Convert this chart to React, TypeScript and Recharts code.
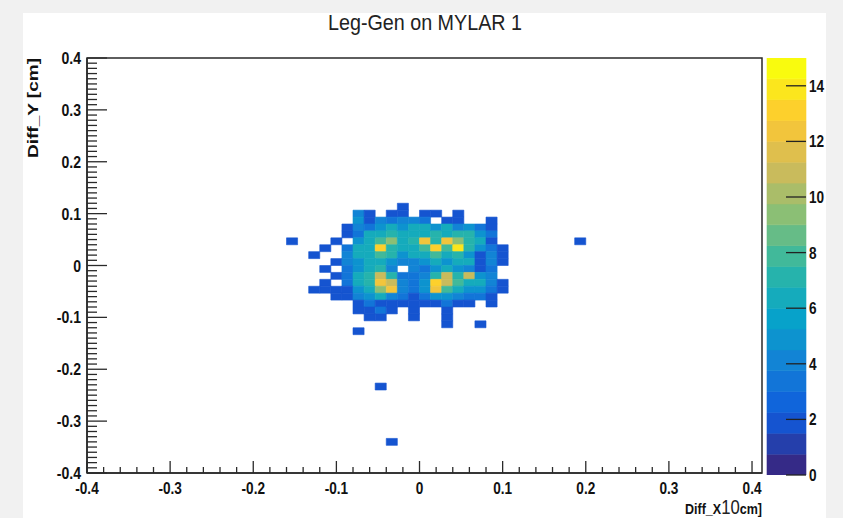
import React from 'react';
import { ScatterChart, Scatter, XAxis, YAxis, ReferenceArea, BarChart, Bar } from 'recharts';

const CANVAS_W = 843;
const CANVAS_H = 518;
const FONT = '"Liberation Sans", Arial, Helvetica, sans-serif';

// 60 bins across [-0.4, 0.4] on both axes; bin k starts at -0.4 + k * BIN_SIZE (x), bin j starts at j * BIN_SIZE (y)
const BIN_SIZE = 0.8 / 60;
const X_BIN_ORIGIN = -0.4;

const xDomain: [number, number] = [-0.4, 0.412];
const yDomain: [number, number] = [-0.4, 0.4];
const zMax = 15;
const zLevels = 20;

// Core of the distribution: columns are x bins, rows are y bins (top row first)
const xBinIndex = [18, 19, 20, 21, 22, 23, 24, 25, 26, 27, 28, 29, 30, 31, 32, 33, 34, 35, 36, 37];
const yBinIndex = [8, 7, 6, 5, 4, 3, 2, 1, 0, -1, -2, -3, -4, -5, -6, -7, -8, -9, -10];
const counts = [
  [0, 0, 0, 0, 0, 0, 0, 0, 0, 0, 2, 0, 0, 0, 0, 0, 0, 0, 0, 0],
  [0, 0, 0, 0, 0, 0, 4, 2, 0, 2, 2, 0, 2, 2, 0, 2, 0, 0, 0, 0],
  [0, 0, 0, 0, 0, 0, 5, 2, 4, 3, 4, 4, 3, 0, 2, 2, 0, 0, 2, 0],
  [0, 0, 0, 0, 0, 2, 4, 3, 5, 6, 5, 6, 6, 5, 6, 4, 5, 3, 2, 0],
  [0, 0, 0, 0, 0, 2, 3, 6, 6, 7, 6, 6, 6, 7, 6, 7, 7, 5, 3, 0],
  [2, 0, 0, 0, 2, 0, 5, 6, 8, 9, 6, 7, 12, 7, 12, 9, 7, 6, 2, 0],
  [0, 0, 0, 2, 0, 3, 6, 6, 13, 7, 6, 6, 8, 13, 8, 14, 7, 5, 3, 2],
  [0, 0, 2, 0, 0, 4, 6, 6, 8, 7, 5, 6, 6, 8, 6, 7, 5, 2, 4, 2],
  [0, 0, 0, 0, 2, 4, 5, 6, 6, 5, 4, 4, 5, 6, 5, 6, 6, 2, 4, 2],
  [0, 0, 0, 2, 0, 3, 5, 6, 7, 4, 0, 4, 3, 5, 6, 5, 4, 2, 3, 0],
  [0, 0, 0, 0, 2, 3, 6, 7, 11, 7, 3, 3, 4, 7, 11, 7, 11, 5, 4, 0],
  [0, 0, 0, 2, 0, 3, 6, 7, 12, 11, 4, 3, 5, 13, 11, 8, 6, 6, 4, 2],
  [0, 0, 2, 2, 2, 2, 5, 6, 9, 12, 4, 3, 5, 12, 8, 6, 5, 5, 3, 2],
  [0, 0, 0, 0, 2, 2, 4, 5, 6, 4, 3, 2, 3, 5, 5, 4, 3, 3, 2, 0],
  [0, 0, 0, 0, 0, 0, 2, 3, 2, 2, 2, 2, 2, 2, 3, 2, 2, 0, 2, 0],
  [0, 0, 0, 0, 0, 0, 2, 2, 3, 2, 0, 2, 0, 0, 2, 0, 0, 0, 0, 0],
  [0, 0, 0, 0, 0, 0, 0, 2, 2, 0, 0, 2, 0, 0, 2, 0, 0, 0, 0, 0],
  [0, 0, 0, 0, 0, 0, 0, 0, 0, 0, 0, 0, 0, 0, 2, 0, 0, 2, 0, 0],
  [0, 0, 0, 0, 0, 0, 2, 0, 0, 0, 0, 0, 0, 0, 0, 0, 0, 0, 0, 0],
];

// Isolated entries away from the core
const strayXBin = [44, 26, 27];
const strayYBin = [3, -18, -26];
const strayCounts = [2, 2, 2];

const xMajorTicks = [-0.4, -0.3, -0.2, -0.1, 0, 0.1, 0.2, 0.3, 0.4];
const xMajorLabels = ['-0.4', '-0.3', '-0.2', '-0.1', '0', '0.1', '0.2', '0.3', '0.4'];
const yMajorTicks = [-0.4, -0.3, -0.2, -0.1, 0, 0.1, 0.2, 0.3, 0.4];
const yMajorLabels = ['-0.4', '-0.3', '-0.2', '-0.1', '0', '0.1', '0.2', '0.3', '0.4'];
const zTicks = [0, 2, 4, 6, 8, 10, 12, 14];
const zTickLabels = ['0', '2', '4', '6', '8', '10', '12', '14'];

const titleText = 'Leg-Gen on MYLAR 1';
const yTitle = 'Diff_Y [cm]';
// x-axis title pieces, with the exponent printed next to the axis letter
const xTitleHead = 'Diff_';
const xTitleLetter = 'X';
const xExponent = '10';
const xTitleTail = 'cm]';

// Minor tick grids (0.02 on x, 0.01 on y)
const xAllTicks = Array.from({ length: 41 }, (_, i) => Math.round((-0.4 + i * 0.02) * 1000) / 1000);
const yAllTicks = Array.from({ length: 81 }, (_, i) => Math.round((-0.4 + i * 0.01) * 1000) / 1000);

// "Bird" palette
const birdStops = [0.0, 0.125, 0.25, 0.375, 0.5, 0.625, 0.75, 0.875, 1.0];
const birdR = [0.2082, 0.0592, 0.078, 0.0232, 0.1802, 0.5301, 0.8186, 0.9956, 0.9764];
const birdG = [0.1664, 0.3599, 0.5041, 0.6419, 0.7178, 0.7492, 0.7328, 0.7862, 0.9832];
const birdB = [0.5293, 0.8684, 0.8385, 0.7914, 0.6425, 0.4662, 0.3499, 0.1968, 0.0539];

function bird(t: number): string {
  const tt = Math.max(0, Math.min(1, t));
  let i = 0;
  while (i < birdStops.length - 2 && tt > birdStops[i + 1]) i++;
  const f = (tt - birdStops[i]) / (birdStops[i + 1] - birdStops[i]);
  const ch = (a: number[]) => Math.round(255 * (a[i] + (a[i + 1] - a[i]) * f));
  return `rgb(${ch(birdR)},${ch(birdG)},${ch(birdB)})`;
}

const levelColor = (level: number) => bird(level / (zLevels - 1));
const countColor = (v: number) => levelColor(Math.min(zLevels - 1, Math.floor(v / (zMax / zLevels))));

type Cell = { x0: number; x1: number; y0: number; y1: number; x: number; y: number; count: number };

const cells: Cell[] = [];
function pushCell(k: number, j: number, count: number) {
  if (count <= 0) return;
  const x0 = X_BIN_ORIGIN + k * BIN_SIZE;
  const y0 = j * BIN_SIZE;
  cells.push({ x0, x1: x0 + BIN_SIZE, y0, y1: y0 + BIN_SIZE, x: x0 + BIN_SIZE / 2, y: y0 + BIN_SIZE / 2, count });
}
counts.forEach((row, r) => row.forEach((v, c) => pushCell(xBinIndex[c], yBinIndex[r], v)));
strayCounts.forEach((v, i) => pushCell(strayXBin[i], strayYBin[i], v));

const AXIS_COLOR = '#2a2a2a';

const findMajor = (list: number[], v: number) => list.findIndex((m) => Math.abs(m - v) < 1e-9);

const XTick = (props: any) => {
  const { x, y, payload } = props;
  const mi = findMajor(xMajorTicks, payload.value);
  const len = mi >= 0 ? 12 : 6;
  return (
    <g>
      <line x1={x} x2={x} y1={y} y2={y - len} stroke={AXIS_COLOR} strokeWidth={1.3} />
      {mi >= 0 && (
        <text
          transform={`translate(${x},${y + 21}) scale(0.85,1)`}
          textAnchor="middle"
          fontFamily={FONT}
          fontWeight="bold"
          fontSize={16}
          fill="#111"
        >
          {xMajorLabels[mi]}
        </text>
      )}
    </g>
  );
};

const YTick = (props: any) => {
  const { x, y, payload } = props;
  const mi = findMajor(yMajorTicks, payload.value);
  const len = mi >= 0 ? 20 : 10;
  return (
    <g>
      <line x1={x} x2={x + len} y1={y} y2={y} stroke={AXIS_COLOR} strokeWidth={1.3} />
      {mi >= 0 && (
        <text
          transform={`translate(${x - 6},${y + 6}) scale(0.88,1)`}
          textAnchor="end"
          fontFamily={FONT}
          fontWeight="bold"
          fontSize={16}
          fill="#111"
        >
          {yMajorLabels[mi]}
        </text>
      )}
    </g>
  );
};

const ZTick = (props: any) => {
  const { x, y, payload } = props;
  const mi = findMajor(zTicks, payload.value);
  return (
    <g>
      <line x1={x} x2={x - 20} y1={y} y2={y} stroke="#222" strokeWidth={1.3} />
      <text
        transform={`translate(${x + 3},${y + 6}) scale(0.85,1)`}
        textAnchor="start"
        fontFamily={FONT}
        fontWeight="bold"
        fontSize={16}
        fill="#111"
      >
        {zTickLabels[mi]}
      </text>
    </g>
  );
};

const zBandKeys = Array.from({ length: zLevels }, (_, i) => `b${i}`);
const colorbarRow = [
  zBandKeys.reduce((acc: Record<string, number | string>, key) => {
    acc[key] = zMax / zLevels;
    return acc;
  }, { name: 'z' }),
];

const layer: React.CSSProperties = { position: 'absolute', left: 0, top: 0 };

export default function App() {
  return (
    <div
      style={{
        position: 'fixed',
        left: 0,
        top: 0,
        width: CANVAS_W,
        height: CANVAS_H,
        background: '#f1f1f1',
        overflow: 'hidden',
      }}
    >
      <div style={{ position: 'absolute', left: 23, top: 13, width: 803, height: 505, background: '#ffffff' }} />

      <div style={layer}>
        <ScatterChart width={CANVAS_W} height={CANVAS_H} margin={{ top: 58, right: 81, bottom: 5, left: 27 }}>
          <XAxis
            type="number"
            dataKey="x"
            domain={xDomain}
            allowDataOverflow
            ticks={xAllTicks}
            interval={0}
            height={40}
            tickSize={0}
            tickMargin={0}
            tickLine={false}
            axisLine={{ stroke: AXIS_COLOR, strokeWidth: 1.5 }}
            tick={<XTick />}
          />
          <YAxis
            type="number"
            dataKey="y"
            domain={yDomain}
            allowDataOverflow
            ticks={yAllTicks}
            interval={0}
            width={60}
            tickSize={0}
            tickMargin={0}
            tickLine={false}
            axisLine={{ stroke: AXIS_COLOR, strokeWidth: 1.5 }}
            tick={<YTick />}
          />
          {cells.map((c, i) => (
            <ReferenceArea
              key={`cell-${i}`}
              x1={c.x0}
              x2={c.x1}
              y1={c.y0}
              y2={c.y1}
              fill={countColor(c.count)}
              fillOpacity={1}
              stroke={countColor(c.count)}
              strokeWidth={0.6}
              strokeOpacity={1}
            />
          ))}
          <ReferenceArea
            x1={xDomain[0]}
            x2={xDomain[1]}
            y1={yDomain[0]}
            y2={yDomain[1]}
            fill="none"
            fillOpacity={0}
            stroke={AXIS_COLOR}
            strokeWidth={1.5}
            strokeOpacity={1}
          />
          <Scatter data={cells} isAnimationActive={false} shape={() => <g />} />
        </ScatterChart>
      </div>

      <div style={layer}>
        <BarChart
          width={CANVAS_W}
          height={CANVAS_H}
          data={colorbarRow}
          margin={{ top: 58, right: 36, bottom: 43, left: 767 }}
          barCategoryGap={0}
          barGap={0}
        >
          <XAxis dataKey="name" hide />
          <YAxis
            orientation="right"
            type="number"
            domain={[0, zMax]}
            allowDataOverflow
            ticks={zTicks}
            interval={0}
            width={1}
            tickSize={0}
            tickMargin={0}
            tickLine={false}
            axisLine={false}
            tick={<ZTick />}
          />
          {zBandKeys.map((key, i) => (
            <Bar
              key={key}
              dataKey={key}
              stackId="z"
              fill={levelColor(i)}
              stroke={levelColor(i)}
              strokeWidth={0.6}
              isAnimationActive={false}
            />
          ))}
        </BarChart>
      </div>

      <svg width={CANVAS_W} height={CANVAS_H} style={{ ...layer, pointerEvents: 'none' }}>
        <text
          x={425}
          y={30}
          textAnchor="middle"
          fontFamily={FONT}
          fontSize={22}
          fill="#222"
          textLength={194}
          lengthAdjust="spacingAndGlyphs"
        >
          {titleText}
        </text>
        <text
          transform="translate(38,58) rotate(-90)"
          textAnchor="end"
          fontFamily={FONT}
          fontWeight="bold"
          fontSize={15}
          fill="#111"
          textLength={100}
          lengthAdjust="spacingAndGlyphs"
        >
          {yTitle}
        </text>
        <text
          transform="translate(685,514) scale(0.835,1)"
          fontFamily={FONT}
          fontWeight="bold"
          fontSize={15}
          fill="#111"
        >
          {xTitleHead}
          <tspan>{xTitleLetter}</tspan>
          <tspan fontWeight="normal" fontSize={20} fill="#222">
            {xExponent}
          </tspan>
          <tspan>{xTitleTail}</tspan>
        </text>
      </svg>
    </div>
  );
}
